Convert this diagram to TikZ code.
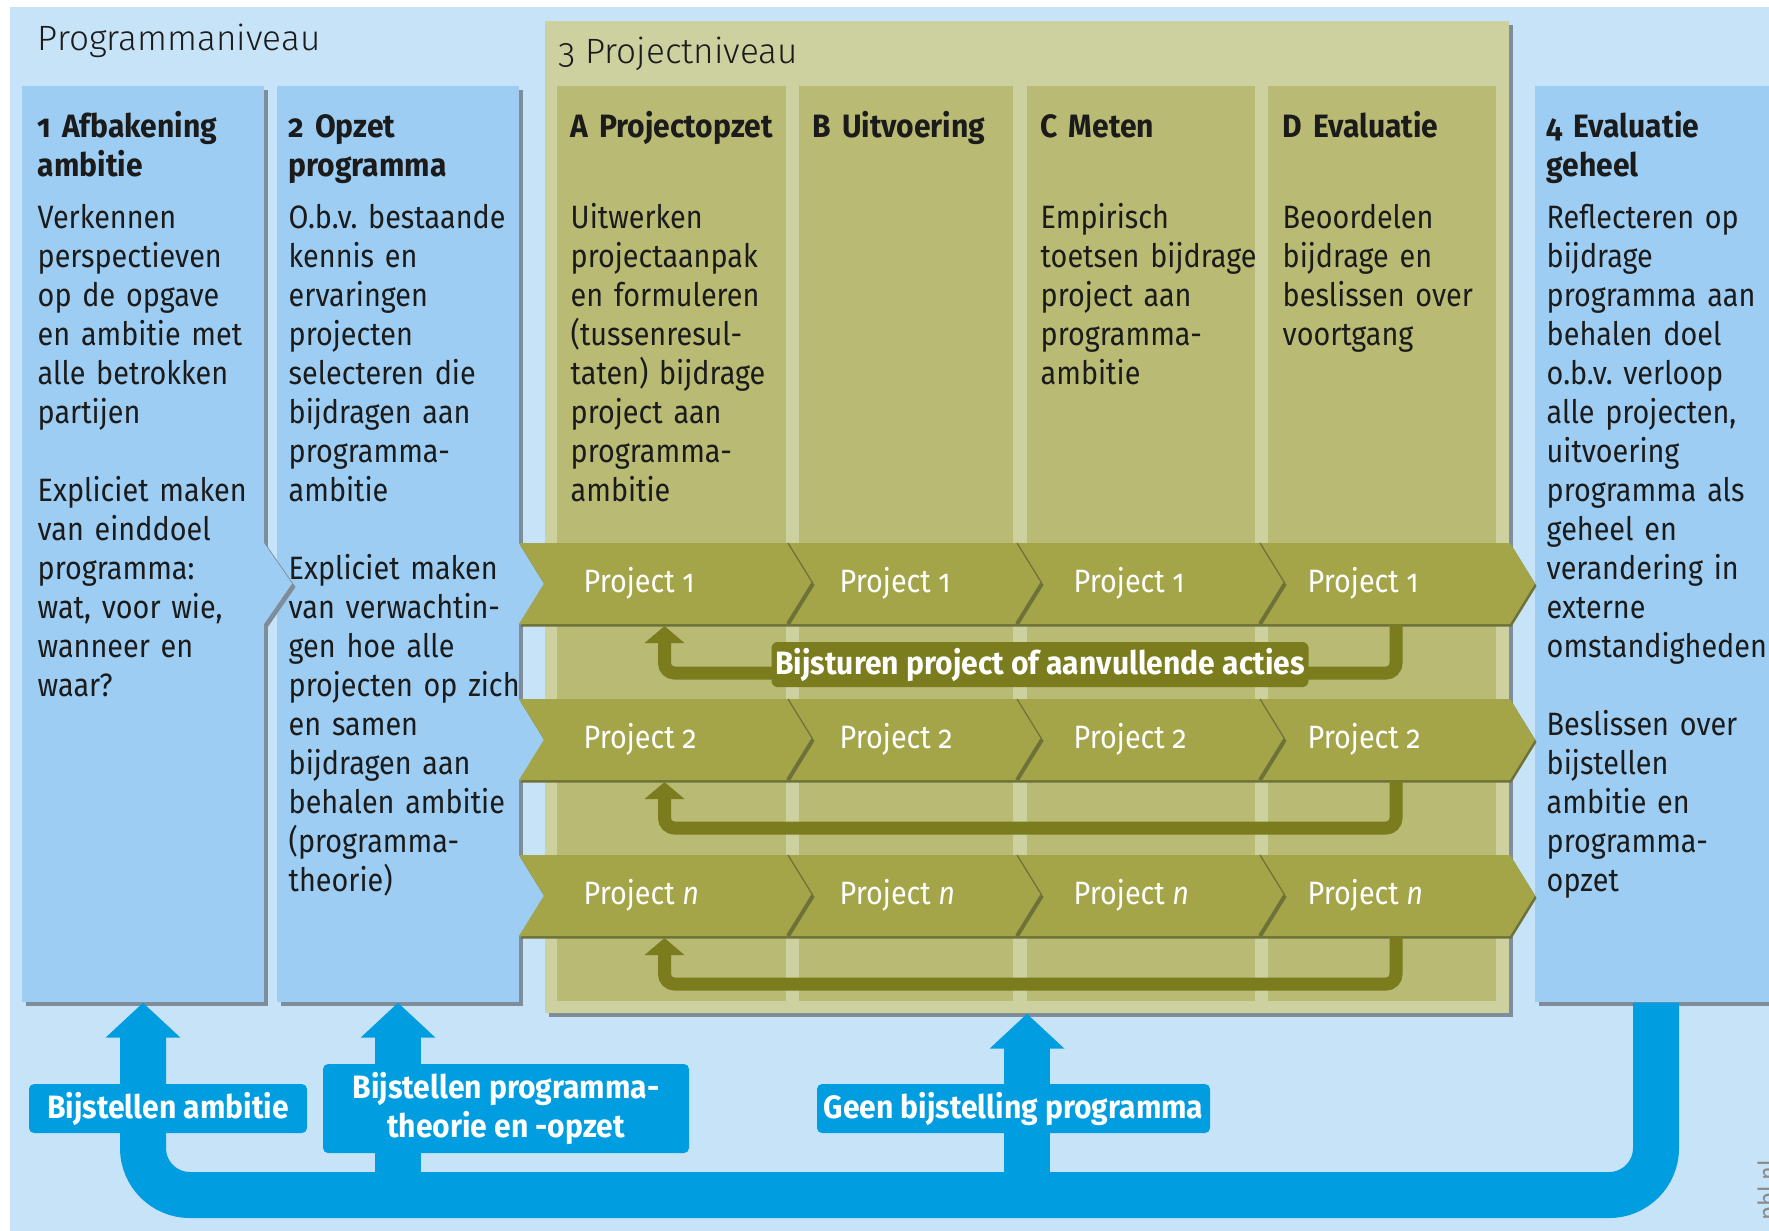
\documentclass[tikz,border=0pt]{standalone}
\usepackage{fontspec}
\setmainfont{Fira Sans}[Numbers=OldStyle, FakeStretch=0.89, BoldFeatures={FakeStretch=0.93}]
\newfontfamily\lightfont{Fira Sans Light}[Numbers=OldStyle]
\frenchspacing
\usetikzlibrary{arrows.meta, shadows}
\definecolor{Pblsky}{HTML}{C7E3F7}
\definecolor{Pblcolumn}{HTML}{9DCDF2}
\definecolor{Pblbox}{HTML}{CDD09F}
\definecolor{Pblstage}{HTML}{B9BA73}
\definecolor{Pblchevron}{HTML}{A4A549}
\definecolor{Pblseam}{HTML}{6E7138}
\definecolor{Pbldark}{HTML}{7A7C1E}
\definecolor{Pblblue}{HTML}{009EE0}
\definecolor{Pblshadow}{HTML}{7F8D9B}
\definecolor{Pbltext}{HTML}{1B1B1B}
\definecolor{Pblgray}{HTML}{8A8A8A}
\tikzstyle{column} = [
    rectangle,
    minimum width=24.2mm,
    minimum height=91.6mm,
    fill=Pblcolumn,
    drop shadow={shadow xshift=0.35mm, shadow yshift=-0.35mm, fill=Pblshadow, opacity=1}
]
\tikzstyle{projbox} = [
    rectangle,
    minimum width=96.4mm,
    minimum height=99.2mm,
    fill=Pblbox,
    drop shadow={shadow xshift=0.4mm, shadow yshift=-0.4mm, fill=Pblshadow, opacity=1}
]
\tikzstyle{stage} = [
    rectangle,
    minimum height=91.5mm,
    fill=Pblstage
]
\tikzstyle{leveltitle} = [
    anchor=base west,
    inner sep=0pt,
    text=Pbltext,
    font=\lightfont\fontsize{10}{12}\selectfont
]
\tikzstyle{heading} = [
    anchor=base west,
    inner sep=0pt,
    text width=30mm,
    align=left,
    text=Pbltext,
    font=\fontsize{9.2}{11.1}\selectfont\bfseries
]
\tikzstyle{bodytext} = [
    anchor=base west,
    inner sep=0pt,
    text width=30mm,
    align=left,
    text=Pbltext,
    font=\fontsize{9.2}{11.1}\selectfont
]
\tikzstyle{stagetext} = [
    anchor=base west,
    inner sep=0pt,
    text=white,
    font=\fontsize{9.2}{11.1}\selectfont
]
\tikzstyle{seam} = [
    draw=Pblseam,
    line width=0.12mm
]
\tikzstyle{seamshade} = [
    draw=Pblseam,
    line width=0.4mm
]
\tikzstyle{steerarrow} = [
    draw=Pbldark,
    line width=1.3mm,
    rounded corners=1mm,
    -{Triangle[width=3.9mm, length=1.7mm]}
]
\tikzstyle{olivelabel} = [
    rectangle, rounded corners=0.6mm,
    fill=Pbldark,
    text=white,
    inner sep=0pt,
    font=\fontsize{9.2}{11.1}\selectfont\bfseries
]
\tikzstyle{bluearrow} = [
    draw=Pblblue,
    line width=4.6mm,
    rounded corners=4.7mm,
    -{Triangle[width=7.3mm, length=3.5mm]}
]
\tikzstyle{bluelabel} = [
    rectangle, rounded corners=0.5mm,
    fill=Pblblue,
    text=white,
    align=center,
    inner sep=0pt,
    font=\fontsize{9.2}{11.1}\selectfont\bfseries
]
\tikzstyle{credit} = [
    rotate=90,
    anchor=north,
    inner sep=0pt,
    text=Pblgray,
    font=\fontsize{7.5}{9}\selectfont
]
\begin{document}
\begin{tikzpicture}[x=0.1mm, y=-0.1mm]
\useasboundingbox (0,0) rectangle (1769,1230);

% backdrop
\fill [Pblsky] (10,7) rectangle (1790,1250);
\node (progtitle)  [leveltitle]                      at (37,50)       {Programmaniveau};

% project level
\node (proj)       [projbox]                         at (1027,517)    {};
\node (stageA)     [stage, minimum width=22.9mm]     at (671.5,543.5) {};
\node (stageB)     [stage, minimum width=21.4mm]     at (906,543.5)   {};
\node (stageC)     [stage, minimum width=22.8mm]     at (1141,543.5)  {};
\node (stageD)     [stage, minimum width=22.8mm]     at (1382,543.5)  {};
\node (projtitle)  [leveltitle]                      at (558,63)      {3 Projectniveau};

% program columns
\node (col1)       [column]                          at (143,544)     {};
\node (col2)       [column]                          at (398,544)     {};
\node (col4)       [column]                          at (1656,544)    {};
\fill [Pblcolumn] (516,543) -- (519,543) -- (545,583.5) -- (519,624) -- (516,624) -- cycle;
\fill [Pblcolumn] (516,699) -- (519,699) -- (545,739.5) -- (519,780) -- (516,780) -- cycle;
\fill [Pblcolumn] (516,855) -- (519,855) -- (545,895.5) -- (519,936) -- (516,936) -- cycle;
\fill [Pblcolumn, drop shadow={shadow xshift=0.35mm, shadow yshift=-0.35mm, fill=Pblshadow, opacity=1}]
      (262,543) -- (264,543) -- (292,583.5) -- (264,624) -- (262,624) -- cycle;

% project 1
\fill [Pblseam, shift={(1.5,2.5)}] (519,543) -- (1510,543) -- (1535,583.5) -- (1510,624) -- (519,624) -- (544,583.5) -- cycle;
\fill [Pblchevron]                 (519,543) -- (1510,543) -- (1535,583.5) -- (1510,624) -- (519,624) -- (544,583.5) -- cycle;
\draw [seam] (788,543) -- (813,583.5);   \draw [seamshade] (813,583.5) -- (788,624);
\draw [seam] (1017,543) -- (1042,583.5); \draw [seamshade] (1042,583.5) -- (1017,624);
\draw [seam] (1260,543) -- (1285,583.5); \draw [seamshade] (1285,583.5) -- (1260,624);
\node (p1a) [stagetext] at (583,592)  {Project 1};
\node (p1b) [stagetext] at (839,592)  {Project 1};
\node (p1c) [stagetext] at (1073,592) {Project 1};
\node (p1d) [stagetext] at (1307,592) {Project 1};

% project 2
\fill [Pblseam, shift={(1.5,2.5)}] (519,699) -- (1510,699) -- (1535,739.5) -- (1510,780) -- (519,780) -- (544,739.5) -- cycle;
\fill [Pblchevron]                 (519,699) -- (1510,699) -- (1535,739.5) -- (1510,780) -- (519,780) -- (544,739.5) -- cycle;
\draw [seam] (788,699) -- (813,739.5);   \draw [seamshade] (813,739.5) -- (788,780);
\draw [seam] (1017,699) -- (1042,739.5); \draw [seamshade] (1042,739.5) -- (1017,780);
\draw [seam] (1260,699) -- (1285,739.5); \draw [seamshade] (1285,739.5) -- (1260,780);
\node (p2a) [stagetext] at (583,748)  {Project 2};
\node (p2b) [stagetext] at (839,748)  {Project 2};
\node (p2c) [stagetext] at (1073,748) {Project 2};
\node (p2d) [stagetext] at (1307,748) {Project 2};

% project n
\fill [Pblseam, shift={(1.5,2.5)}] (519,855) -- (1510,855) -- (1535,895.5) -- (1510,936) -- (519,936) -- (544,895.5) -- cycle;
\fill [Pblchevron]                 (519,855) -- (1510,855) -- (1535,895.5) -- (1510,936) -- (519,936) -- (544,895.5) -- cycle;
\draw [seam] (788,855) -- (813,895.5);   \draw [seamshade] (813,895.5) -- (788,936);
\draw [seam] (1017,855) -- (1042,895.5); \draw [seamshade] (1042,895.5) -- (1017,936);
\draw [seam] (1260,855) -- (1285,895.5); \draw [seamshade] (1285,895.5) -- (1260,936);
\node (pna) [stagetext] at (583,904)  {Project \textit{n}};
\node (pnb) [stagetext] at (839,904)  {Project \textit{n}};
\node (pnc) [stagetext] at (1073,904) {Project \textit{n}};
\node (pnd) [stagetext] at (1307,904) {Project \textit{n}};

% feedback within the projects
\coordinate (fbout1) at (1396,625);  \coordinate (fbin1) at (664.5,626);
\coordinate (fbout2) at (1396,781);  \coordinate (fbin2) at (664.5,782);
\coordinate (fbout3) at (1396,937);  \coordinate (fbin3) at (664.5,938);
\draw [steerarrow] (fbout1) -- ++(0,48) -| (fbin1);
\draw [steerarrow] (fbout2) -- ++(0,47) -| (fbin2);
\draw [steerarrow] (fbout3) -- ++(0,47) -| (fbin3);
\node (steer) [olivelabel, minimum width=53.7mm, minimum height=4.5mm] at (1040,664.5) {Bijsturen project of aanvullende acties};

% column texts
\node (head1) [heading]  at (37,137)   {1 Afbakening\\ambitie};
\node (body1) [bodytext] at (37,228)   {Verkennen\\perspectieven\\op de opgave\\en ambitie met\\alle betrokken\\partijen\\[11.1pt]Expliciet maken\\van einddoel\\programma:\\wat, voor wie,\\wanneer en\\waar?};
\node (head2) [heading]  at (288,137)  {2 Opzet\\programma};
\node (body2) [bodytext] at (288,228)  {O.b.v. bestaande\\kennis en\\ervaringen\\projecten\\selecteren die\\bijdragen aan\\programma-\\ambitie\\[11.1pt]Expliciet maken\\van verwachtin-\\gen hoe alle\\projecten op zich\\en samen\\bijdragen aan\\behalen ambitie\\(programma-\\theorie)};
\node (headA) [heading]  at (570,137)  {A Projectopzet};
\node (bodyA) [bodytext] at (570,228)  {Uitwerken\\projectaanpak\\en formuleren\\(tussenresul-\\taten) bijdrage\\project aan\\programma-\\ambitie};
\node (headB) [heading]  at (812,137)  {B Uitvoering};
\node (headC) [heading]  at (1040,137) {C Meten};
\node (bodyC) [bodytext] at (1040,228) {Empirisch\\toetsen bijdrage\\project aan\\programma-\\ambitie};
\node (headD) [heading]  at (1282,137) {D Evaluatie};
\node (bodyD) [bodytext] at (1282,228) {Beoordelen\\bijdrage en\\beslissen over\\voortgang};
\node (head4) [heading]  at (1546,137) {4 Evaluatie\\geheel};
\node (body4) [bodytext] at (1546,228) {Reflecteren op\\bijdrage\\programma aan\\behalen doel\\o.b.v. verloop\\alle projecten,\\uitvoering\\programma als\\geheel en\\verandering in\\externe\\omstandigheden\\[11.1pt]Beslissen over\\bijstellen\\ambitie en\\programma-\\opzet};

% feedback to the programme
\coordinate (busline) at (0,1195);
\draw [bluearrow] (col4.south) -- (col4.south |- busline) -| (col1.south);
\draw [bluearrow] (col2.south |- busline) -- (col2.south);
\draw [bluearrow] (proj.south |- busline) -- (proj.south);
\node (lblAmbition) [bluelabel, minimum width=27.8mm, minimum height=4.9mm] at (168,1108.5)  {Bijstellen ambitie};
\node (lblTheory)   [bluelabel, minimum width=36.6mm, minimum height=8.9mm] at (506,1108.5)  {Bijstellen programma-\\theorie en -opzet};
\node (lblNone)     [bluelabel, minimum width=39.3mm, minimum height=4.9mm] at (1013.5,1108.5) {Geen bijstelling programma};

\node (credit) [credit] at (1757,1190) {pbl.nl};
\end{tikzpicture}
\end{document}
